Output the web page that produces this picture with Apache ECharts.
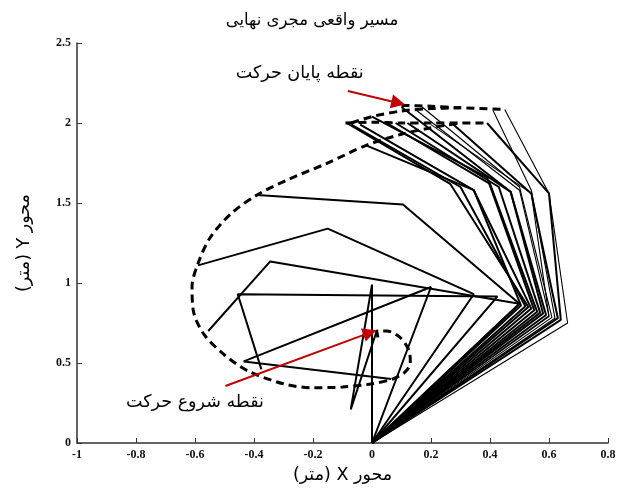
<!DOCTYPE html>
<html>
<head>
<meta charset="utf-8">
<script src="https://cdn.jsdelivr.net/npm/echarts@6/dist/echarts.min.js"></script>
<style>
  html, body { margin: 0; padding: 0; background: #ffffff; }
  #chart { width: 624px; height: 489px; }
</style>
</head>
<body>
<div id="chart"></div>
<script>
// Planar three-link arm: every pose is base -> first joint -> second joint -> tool tip.
const base = [0, 0];

// First joint (end of link 1) for each pose
const joint1 = [
  [0.00, 0.99], [0.20, 0.975], [0.425, 0.915], [0.50, 0.87], [0.345, 0.93],
  [0.50, 0.87], [0.505, 0.86], [0.53, 0.85], [0.54, 0.84], [0.55, 0.83],
  [0.56, 0.82], [0.58, 0.81], [0.59, 0.80], [0.60, 0.79], [0.61, 0.785],
  [0.63, 0.78], [0.64, 0.77], [0.663, 0.75], [0.62, 0.78], [0.52, 0.855],
  [0.57, 0.815], [0.60, 0.795]
];

// Second joint (end of link 2) for each pose
const joint2 = [
  [-0.072, 0.21], [-0.435, 0.51], [-0.455, 0.93], [-0.345, 1.135], [-0.15, 1.34],
  [0.105, 1.49], [0.345, 1.58], [0.265, 1.62], [0.345, 1.58], [0.39, 1.66],
  [0.40, 1.62], [0.47, 1.57], [0.47, 1.57], [0.54, 1.56], [0.50, 1.60],
  [0.54, 1.56], [0.60, 1.56], [0.60, 1.56], [0.54, 1.58], [0.30, 1.60],
  [0.43, 1.60], [0.50, 1.58]
];

// Tool tip for each pose
const tip = [
  [0.016, 0.70], [0.065, 0.40], [-0.375, 0.46], [-0.555, 0.70], [-0.59, 1.11],
  [-0.39, 1.55], [-0.02, 1.86], [-0.086, 2.00], [-0.04, 1.99], [0.00, 2.04],
  [0.05, 2.00], [0.12, 2.00], [0.10, 2.10], [0.20, 1.99], [0.17, 2.10],
  [0.27, 2.00], [0.39, 2.00], [0.45, 2.085], [0.41, 2.08], [-0.07, 1.99],
  [0.08, 2.00], [0.15, 2.08]
];

// Thin-drawn poses (indices into the arrays above)
const thinPoses = [13, 14, 17, 18, 21];

// Tool-tip path actually followed (dashed)
const pathMain = [
  [0.02, 0.66], [0.016, 0.70], [0.05, 0.70], [0.095, 0.66], [0.125, 0.58],
  [0.13, 0.50], [0.11, 0.44], [0.07, 0.40], [0.00, 0.37], [-0.10, 0.35],
  [-0.20, 0.345], [-0.30, 0.37], [-0.42, 0.45], [-0.50, 0.55], [-0.57, 0.68],
  [-0.605, 0.82], [-0.61, 0.98], [-0.59, 1.12], [-0.55, 1.28], [-0.48, 1.43],
  [-0.39, 1.55], [-0.28, 1.65], [-0.15, 1.75], [-0.02, 1.86], [0.10, 1.93],
  [0.20, 1.97], [0.30, 2.00]
];
const pathLow = [[-0.09, 2.00], [0.00, 2.005], [0.10, 2.00], [0.20, 2.00], [0.30, 2.00], [0.39, 2.00]];
const pathArc = [[-0.07, 2.00], [0.00, 2.04], [0.10, 2.075], [0.20, 2.09], [0.30, 2.095]];
const pathTop = [[0.10, 2.11], [0.20, 2.105], [0.30, 2.095], [0.45, 2.085]];

// Axis ranges and steps
const xRange = [-1, 0.8], xStep = 0.2;
const yRange = [0, 2.5], yStep = 0.5;

// Text
const titleText = 'مسیر واقعی مجری نهایی';
const xName = '\u202Bمحور X (متر)\u202C';
const yName = '\u202Bمحور Y (متر)\u202C';
const endLabel = 'نقطه پایان حرکت';
const startLabel = 'نقطه شروع حرکت';

// Callouts: label anchor, arrow tail, arrow head
const endNote = { at: [-0.245, 2.31], from: [-0.082, 2.20], to: [0.089, 2.125] };
const startNote = { at: [-0.60, 0.255], from: [-0.497, 0.356], to: [-0.007, 0.69] };

const arabicFont = 'DejaVu Sans';
const numFont = 'Liberation Serif';

const series = [];

joint1.forEach((j1, i) => {
  series.push({
    type: 'line',
    data: [base, j1, joint2[i], tip[i]],
    symbol: 'none',
    silent: true,
    lineStyle: { color: '#000', width: thinPoses.includes(i) ? 1.1 : 2 },
    z: 2
  });
});

[pathMain, pathLow, pathArc, pathTop].forEach(p => {
  series.push({
    type: 'line',
    data: p,
    symbol: 'none',
    smooth: 0.3,
    silent: true,
    lineStyle: { color: '#000', width: 3, type: [8, 5] },
    z: 3
  });
});

// Red callout arrows
series.push({
  type: 'lines',
  coordinateSystem: 'cartesian2d',
  silent: true,
  symbol: ['none', 'triangle'],
  symbolSize: 14,
  lineStyle: { color: '#c00000', width: 2, opacity: 1 },
  data: [
    { coords: [endNote.from, endNote.to] },
    { coords: [startNote.from, startNote.to] }
  ],
  z: 5
});

// Callout texts (anchored on tiny white markers)
series.push({
  type: 'scatter',
  silent: true,
  symbol: 'circle',
  symbolSize: 0.5,
  itemStyle: { color: '#ffffff', opacity: 1 },
  label: {
    show: true,
    position: 'inside',
    formatter: p => p.name,
    fontFamily: arabicFont,
    fontSize: 17.5,
    color: '#000000',
    opacity: 1,
    textBorderWidth: 0
  },
  data: [
    { name: endLabel, value: endNote.at },
    { name: startLabel, value: startNote.at }
  ],
  z: 6
});

const chart = echarts.init(document.getElementById('chart'), null, { renderer: 'canvas' });
chart.setOption({
  animation: false,
  backgroundColor: '#ffffff',
  title: {
    text: titleText,
    left: 'center',
    top: 7,
    textStyle: { fontFamily: arabicFont, fontSize: 16.5, fontWeight: 'normal', color: '#000' }
  },
  grid: { left: 77, right: 16, top: 43, bottom: 46 },
  xAxis: {
    type: 'value',
    min: xRange[0], max: xRange[1], interval: xStep,
    name: xName,
    nameLocation: 'middle',
    nameGap: 23,
    nameTextStyle: { fontFamily: arabicFont, fontSize: 17.5, color: '#000' },
    axisLine: { show: true, onZero: false, lineStyle: { color: '#333', width: 1.5 } },
    axisTick: { show: true, inside: true, length: 5, lineStyle: { color: '#333' } },
    axisLabel: { fontFamily: numFont, fontWeight: 'bold', fontSize: 12, color: '#111', margin: 6 },
    splitLine: { show: false }
  },
  yAxis: {
    type: 'value',
    min: yRange[0], max: yRange[1], interval: yStep,
    name: yName,
    nameLocation: 'middle',
    nameRotate: 90,
    nameGap: 44,
    nameTextStyle: { fontFamily: arabicFont, fontSize: 17.5, color: '#000' },
    axisLine: { show: true, onZero: false, lineStyle: { color: '#333', width: 1.5 } },
    axisTick: { show: true, inside: true, length: 5, lineStyle: { color: '#333' } },
    axisLabel: { fontFamily: numFont, fontWeight: 'bold', fontSize: 12, color: '#111', margin: 6 },
    splitLine: { show: false }
  },
  series: series
});
</script>
</body>
</html>
